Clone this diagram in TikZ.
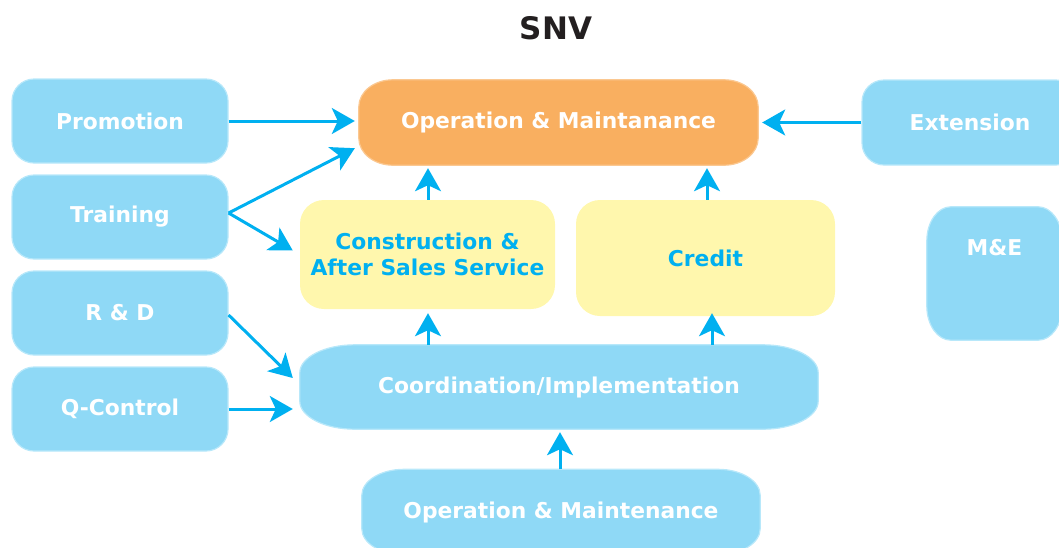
\documentclass[tikz,border=0pt]{standalone}
\usepackage{fontspec}
\setmainfont{DejaVu Sans}
\usetikzlibrary{arrows.meta,calc,backgrounds}
\definecolor{boxblue}{RGB}{143,217,246}
\definecolor{boxblueline}{RGB}{184,232,250}
\definecolor{boxorange}{RGB}{249,175,96}
\definecolor{boxorangeline}{RGB}{251,200,145}
\definecolor{boxyellow}{RGB}{255,247,173}
\definecolor{arrcyan}{RGB}{0,176,240}
\definecolor{titlegray}{RGB}{35,31,32}
\tikzset{
  base/.style={inner sep=0pt, font=\fontsize{21.8}{26}\selectfont\bfseries, align=center},
  bluebox/.style={base, fill=boxblue, draw=boxblueline, line width=1.2pt, text=white, rounded corners=22pt},
  bluefill/.style={fill=boxblue, draw=boxblueline, line width=1.2pt},
  orangefill/.style={fill=boxorange, draw=boxorangeline, line width=1.2pt},
  plainbox/.style={base, text=white},
  yellowbox/.style={base, fill=boxyellow, draw=none, text=arrcyan, rounded corners=24pt},
  arr/.style={draw=arrcyan, line width=3pt, -{Stealth[length=23pt,width=26pt,inset=6pt]}},
}
% elliptic-corner outline behind a node: #1 node, #2 rx, #3 ry, #4 style
\newcommand\ellshape[4]{%
  \path[#4] ([xshift=#2]#1.north west) -- ([xshift=-#2]#1.north east)
    arc[start angle=90, end angle=0, x radius=#2, y radius=#3]
    -- ([yshift=#3]#1.south east)
    arc[start angle=0, end angle=-90, x radius=#2, y radius=#3]
    -- ([xshift=#2]#1.south west)
    arc[start angle=270, end angle=180, x radius=#2, y radius=#3]
    -- ([yshift=-#3]#1.north west)
    arc[start angle=180, end angle=90, x radius=#2, y radius=#3] -- cycle;}
\begin{document}
\begin{tikzpicture}[x=1pt,y=-1pt]
\useasboundingbox (0,0) rectangle (1059,547);
\clip (0,0) rectangle (1059,547);
\node[font=\fontsize{31}{36}\selectfont\bfseries, text=titlegray] (title) at (556,28) {SNV};

\node[bluebox, minimum width=216pt, minimum height=84pt] (pr) at (120,121) {Promotion};
\node[bluebox, minimum width=216pt, minimum height=84pt] (tr) at (120,217) {Training};
\node[bluebox, minimum width=216pt, minimum height=84pt] (rd) at (120,313) {R \& D};
\node[bluebox, minimum width=216pt, minimum height=84pt] (qc) at (120,409) {Q-Control};

\node[plainbox, minimum width=399pt, minimum height=85pt] (or) at (558.5,122.5) {Operation \& Maintanance};
\node[bluebox, minimum width=216pt, minimum height=85pt] (ex) at (970,122.5) {Extension};
\node[plainbox, minimum width=135pt, minimum height=133pt,
      label={[base, text=white, anchor=center, yshift=-41pt]north:M\&E}] (me) at (994.5,273.5) {};

\node[yellowbox, minimum width=255pt, minimum height=109pt] (cs) at (427.5,254.5) {Construction \&\\After Sales Service};
\node[yellowbox, minimum width=259pt, minimum height=116pt] (cr) at (705.5,258) {Credit};

\node[plainbox, minimum width=518pt, minimum height=84pt] (co) at (559,387) {Coordination/Implementation};
\node[plainbox, minimum width=398pt, minimum height=85pt] (bo) at (561,512) {Operation \& Maintenance};

\begin{pgfonlayer}{background}
  \ellshape{or}{34pt}{27pt}{orangefill}
  \ellshape{me}{24pt}{34pt}{bluefill}
  \ellshape{co}{55pt}{28pt}{bluefill}
  \ellshape{bo}{42pt}{26pt}{bluefill}
\end{pgfonlayer}

\draw[arr] (pr.east) -- ([xshift=-4pt]or.west |- pr.east);
\draw[arr] ([yshift=4pt]tr.east) -- ([xshift=-4pt,yshift=17pt]or.south west);
\draw[arr] ([yshift=4pt]tr.east) -- ([xshift=-7pt,yshift=4pt]cs.west);
\draw[arr] ([yshift=-2pt]rd.east) -- ([xshift=-7pt,yshift=9pt]co.west);
\draw[arr] (qc.east) -- ([xshift=-7pt,yshift=-22pt]co.west);
\draw[arr] ([xshift=0.5pt]cs.north) -- ([xshift=0.5pt,yshift=-3pt]cs.north |- or.south);
\draw[arr] ([xshift=1.5pt]cr.north) -- ([xshift=1.5pt,yshift=-3pt]cr.north |- or.south);
\draw[arr] ([xshift=0.5pt]cs.south |- co.north) -- ([xshift=0.5pt,yshift=-4pt]cs.south);
\draw[arr] ([xshift=6.5pt]cr.south |- co.north) -- ([xshift=6.5pt,yshift=3pt]cr.south);
\draw[arr] ([xshift=-1pt]bo.north) -- ([xshift=-1pt,yshift=-3pt]bo.north |- co.south);
\draw[arr] (ex.west) -- ([xshift=4pt]or.east);
\end{tikzpicture}
\end{document}
